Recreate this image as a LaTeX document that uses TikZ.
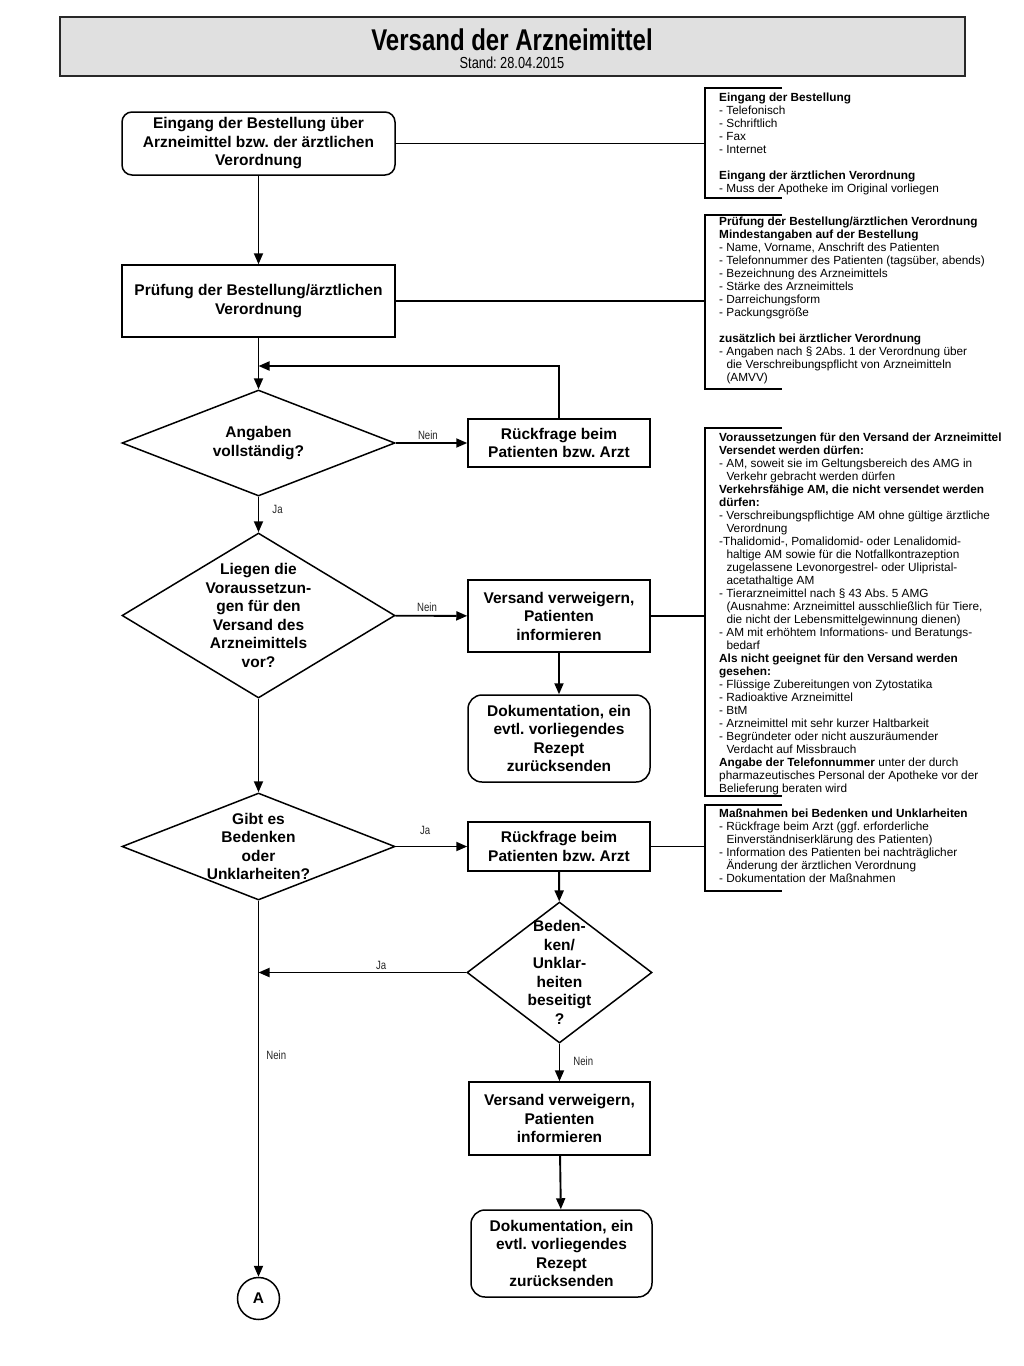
\documentclass[tikz,border=0pt]{standalone}
\usepackage{fontspec}
\setmainfont{Liberation Sans}
\newfontfamily\narrowfont{Liberation Sans}[FakeStretch=0.8]
\usetikzlibrary{arrows.meta,shapes.geometric,positioning,calc}
\definecolor{titlegray}{RGB}{224,224,224}
\definecolor{framegray}{RGB}{40,40,40}
\tikzset{
  procbox/.style={draw,line width=1.5pt,inner sep=0pt,align=center,
    font=\fontsize{15.5}{18.5}\selectfont\bfseries},
  startbox/.style={procbox,rounded corners=10pt},
  docbox/.style={procbox,rounded corners=14pt},
  decision/.style={draw,diamond,line width=1.5pt,inner sep=0pt},
  dtext/.style={font=\fontsize{15.5}{18.5}\selectfont\bfseries,
    align=center,inner sep=0pt},
  flow/.style={-{Triangle[length=11pt,width=9pt]},line width=1.9pt},
  noteline/.style={line width=1.3pt},
  bracket/.style={line width=1.6pt},
  note/.style={anchor=north west,inner sep=0pt,align=left,
    font=\fontsize{11.8}{13}\selectfont},
  tag/.style={font=\narrowfont\fontsize{12}{12}\selectfont,
    text=black!85,inner sep=2pt},
}
\newcommand{\ind}{\hspace*{0.62em}}
\frenchspacing

\begin{document}
\begin{tikzpicture}[x=1pt,y=-1pt]
\useasboundingbox (0,0) rectangle (1024,1366);

% Kopf
\node[draw=framegray,line width=1.8pt,fill=titlegray,
      minimum width=905pt,minimum height=59pt] (kopf) at (512.5,46.5) {};
\node[anchor=base,font=\narrowfont\fontsize{30}{30}\selectfont\bfseries]
  (titel) at (512,50) {Versand der Arzneimittel};
\node[anchor=base,font=\narrowfont\fontsize{16}{16}\selectfont]
  (stand) at (512,68) {Stand: 28.04.2015};

% Ablauf links
\node[startbox,minimum width=273pt,minimum height=63pt] (eingang) at (258.5,143.5)
  {Eingang der Bestellung über\\Arzneimittel bzw. der ärztlichen\\Verordnung};
\node[procbox,minimum width=273pt,minimum height=72pt] (pruefung) at (258.5,301)
  {Prüfung der Bestellung/ärztlichen\\Verordnung};
\node[decision,minimum width=273pt,minimum height=106pt,
      label={[dtext]center:{Angaben\\vollständig?}}] (angaben) at (258.5,443) {};
\node[decision,minimum width=273pt,minimum height=165pt,
      label={[dtext]center:{Liegen die\\Voraussetzun-\\gen für den\\Versand des\\Arzneimittels\\vor?}}]
  (voraus) at (258.5,615.5) {};
\node[decision,minimum width=273pt,minimum height=107pt,
      label={[dtext]center:{Gibt es\\Bedenken\\oder\\Unklarheiten?}}] (bedenken) at (258.5,846.5) {};
\node[draw,circle,line width=1.5pt,minimum size=42pt,inner sep=0pt,
      font=\fontsize{15.5}{18.5}\selectfont\bfseries] (conA) at (258.5,1298.5) {A};

% Ablauf rechts
\node[procbox,minimum width=182pt,minimum height=48pt] (rueck1) at (559,443)
  {Rückfrage beim\\Patienten bzw. Arzt};
\node[procbox,minimum width=182pt,minimum height=72pt] (verw1) at (559,616)
  {Versand verweigern,\\Patienten\\informieren};
\node[docbox,minimum width=182pt,minimum height=87pt] (doku1) at (559,738.5)
  {Dokumentation, ein\\evtl. vorliegendes\\Rezept\\zurücksenden};
\node[procbox,minimum width=182pt,minimum height=49pt] (rueck2) at (559,846.5)
  {Rückfrage beim\\Patienten bzw. Arzt};
\node[decision,minimum width=185pt,minimum height=141pt,
      label={[dtext]center:{Beden-\\ken/\\Unklar-\\heiten\\beseitigt\\?}}] (beseitigt) at (559.5,972.5) {};
\node[procbox,minimum width=181pt,minimum height=73pt] (verw2) at (559.5,1118.5)
  {Versand verweigern,\\Patienten\\informieren};
\node[docbox,minimum width=181pt,minimum height=87pt] (doku2) at (561.5,1253.5)
  {Dokumentation, ein\\evtl. vorliegendes\\Rezept\\zurücksenden};

% Verbindungen
\coordinate (schleife) at (258.5,366);
\draw[flow] (eingang) -- (pruefung);
\draw[flow] (pruefung) -- (angaben);
\draw[flow] (rueck1.north) |- (schleife);
\draw[flow] (angaben) -- node[tag,pos=0.45,above=0pt]{Nein} (rueck1);
\draw[flow] (angaben) -- node[tag,pos=0.35,right=11pt]{Ja} (voraus);
\draw[flow] (voraus) -- node[tag,pos=0.44,above=1pt]{Nein} (verw1);
\draw[flow] (verw1) -- (doku1);
\draw[flow] (voraus) -- (bedenken);
\draw[flow] (bedenken) -- node[tag,pos=0.41,above=9pt]{Ja} (rueck2);
\draw[flow] (rueck2) -- (beseitigt);
\draw[flow] (beseitigt.west) -- node[tag,pos=0.41,above=0pt]{Ja} (beseitigt.west -| conA.north);
\draw[flow] (beseitigt) -- node[tag,pos=0.46,right=11pt]{Nein} (verw2);
\draw[flow] (verw2) -- (doku2);
\draw[flow] (bedenken) -- node[tag,pos=0.41,right=5pt]{Nein} (conA);

% Anmerkungen
\coordinate (k1) at (705,143.5);
\coordinate (k2) at (705,301);
\coordinate (k3) at (705,616);
\coordinate (k4) at (705,846.5);
\draw[noteline] (eingang) -- (k1);
\draw[noteline] (pruefung) -- (k2);
\draw[noteline] (verw1) -- (k3);
\draw[noteline] (rueck2) -- (k4);
\draw[bracket] (782,88) -| (705,198) -- (782,198);
\draw[bracket] (782,215) -| (705,389) -- (782,389);
\draw[bracket] (782,428) -| (705,796) -- (782,796);
\draw[bracket] (782,805) -| (705,891) -- (782,891);

\node[note] (anm1) at (719,93)
  {\textbf{Eingang der Bestellung}\\
   - Telefonisch\\
   - Schriftlich\\
   - Fax\\
   - Internet\\[13pt]
   \textbf{Eingang der ärztlichen Verordnung}\\
   - Muss der Apotheke im Original vorliegen};
\node[note] (anm2) at (719,217)
  {\textbf{Prüfung der Bestellung/ärztlichen Verordnung}\\
   \textbf{Mindestangaben auf der Bestellung}\\
   - Name, Vorname, Anschrift des Patienten\\
   - Telefonnummer des Patienten (tagsüber, abends)\\
   - Bezeichnung des Arzneimittels\\
   - Stärke des Arzneimittels\\
   - Darreichungsform\\
   - Packungsgröße\\[13pt]
   \textbf{zusätzlich bei ärztlicher Verordnung}\\
   - Angaben nach § 2Abs. 1 der Verordnung über\\
   \ind die Verschreibungspflicht von Arzneimitteln\\
   \ind (AMVV)};
\node[note] (anm3) at (719,433)
  {\textbf{Voraussetzungen für den Versand der Arzneimittel}\\
   \textbf{Versendet werden dürfen:}\\
   - AM, soweit sie im Geltungsbereich des AMG in\\
   \ind Verkehr gebracht werden dürfen\\
   \textbf{Verkehrsfähige AM, die nicht versendet werden}\\
   \textbf{dürfen:}\\
   - Verschreibungspflichtige AM ohne gültige ärztliche\\
   \ind Verordnung\\
   -Thalidomid-, Pomalidomid- oder Lenalidomid-\\
   \ind haltige AM sowie für die Notfallkontrazeption\\
   \ind zugelassene Levonorgestrel- oder Ulipristal-\\
   \ind acetathaltige AM\\
   - Tierarzneimittel nach § 43 Abs. 5 AMG\\
   \ind (Ausnahme: Arzneimittel ausschließlich für Tiere,\\
   \ind die nicht der Lebensmittelgewinnung dienen)\\
   - AM mit erhöhtem Informations- und Beratungs-\\
   \ind bedarf\\
   \textbf{Als nicht geeignet für den Versand werden}\\
   \textbf{gesehen:}\\
   - Flüssige Zubereitungen von Zytostatika\\
   - Radioaktive Arzneimittel\\
   - BtM\\
   - Arzneimittel mit sehr kurzer Haltbarkeit\\
   - Begründeter oder nicht auszuräumender\\
   \ind Verdacht auf Missbrauch\\
   \textbf{Angabe der Telefonnummer} unter der durch\\
   pharmazeutisches Personal der Apotheke vor der\\
   Belieferung beraten wird};
\node[note] (anm4) at (719,809)
  {\textbf{Maßnahmen bei Bedenken und Unklarheiten}\\
   - Rückfrage beim Arzt (ggf. erforderliche\\
   \ind Einverständniserklärung des Patienten)\\
   - Information des Patienten bei nachträglicher\\
   \ind Änderung der ärztlichen Verordnung\\
   - Dokumentation der Maßnahmen};
\end{tikzpicture}
\end{document}
